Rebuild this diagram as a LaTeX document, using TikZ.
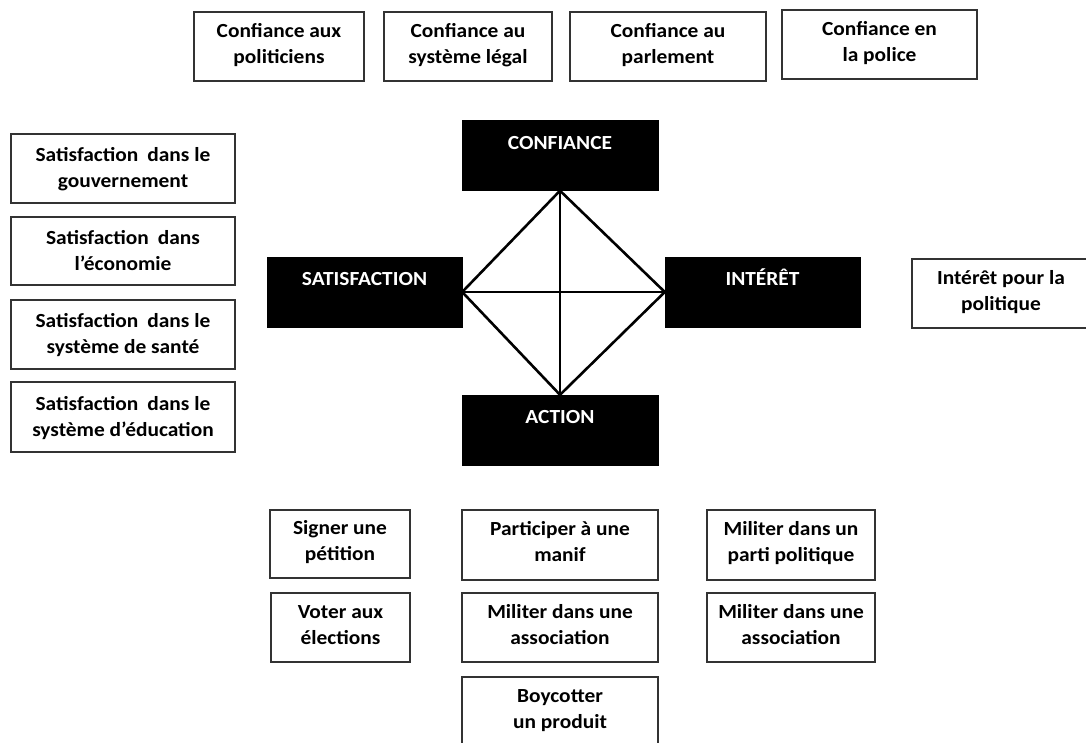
\documentclass[tikz,border=0pt]{standalone}
\usepackage{fontspec}
\setmainfont{Carlito}[FakeStretch=1.07]
\newcommand\twol[2]{\rule{0pt}{18pt}#1\\#2\rule[-10.6pt]{0pt}{10.6pt}}
\newcommand\twolL[2]{\rule{0pt}{18pt}#1\\#2\rule[-6pt]{0pt}{6pt}}
\newcommand\corel[1]{\rule{0pt}{19pt}#1\\\rule[-5.4pt]{0pt}{5.4pt}}
\begin{document}
\begin{tikzpicture}[x=1pt,y=-1pt,
  txtbase/.style={inner sep=0pt, align=center, rectangle,
    font=\bfseries\fontsize{20}{26}\selectfont},
  box/.style={txtbase, draw=black!80, line width=1.3pt, fill=white, text=black,
    minimum height=69pt},
  core/.style={txtbase, draw=black, fill=black, text=white,
    minimum width=196pt, minimum height=70pt},
  link/.style={line width=2.6pt, line cap=round}]
\useasboundingbox (0,0) rectangle (1086,743);
% top
\node[box, minimum width=170pt] (t1) at (279,46.5) {\twol{Confiance aux}{politiciens}};
\node[box, minimum width=168pt] (t2) at (468,46.5) {\twol{Confiance au}{système légal}};
\node[box, minimum width=196pt] (t3) at (668,46.5) {\twol{Confiance au}{parlement}};
\node[box, minimum width=195pt] (t4) at (879.5,44.5) {\twol{Confiance en}{la police}};
% left
\node[box, minimum width=224pt] (l1) at (123,168.5) {\twolL{Satisfaction\hspace{0.45em}dans le}{gouvernement}};
\node[box, minimum width=224pt, minimum height=68pt] (l2) at (123,251) {\twolL{Satisfaction\hspace{0.45em}dans}{l’économie}};
\node[box, minimum width=224pt] (l3) at (123,334.5) {\twolL{Satisfaction\hspace{0.45em}dans le}{système de santé}};
\node[box, minimum width=224pt, minimum height=70pt] (l4) at (123,417) {\twolL{Satisfaction\hspace{0.45em}dans le}{système d’éducation}};
% core
\node[core] (conf) at (560,155.5) {\corel{CONFIANCE}};
\node[core, minimum width=195pt] (sat) at (364.5,292) {\corel{SATISFACTION}};
\node[core, minimum width=195pt] (int) at (762.5,292) {\corel{INTÉRÊT}};
\node[core] (act) at (560,430) {\corel{ACTION}};
\draw[link] (conf.south) -- (sat.east) -- (act.north) -- (int.west) -- cycle;
\draw[link] (conf.south) -- (act.north);
\draw[link] (sat.east) -- (int.west);
% right
\node[box, minimum width=178pt] (r1) at (1001,293.5) {\twol{Intérêt pour la}{politique}};
% bottom
\node[box, minimum width=140pt, minimum height=68pt] (b1) at (340,544) {\twol{Signer une}{pétition}};
\node[box, minimum width=196pt, minimum height=70pt] (b2) at (560,545) {\twol{Participer à une}{manif}};
\node[box, minimum width=168pt, minimum height=70pt] (b3) at (791,545) {\twol{Militer dans un}{parti politique}};
\node[box, minimum width=139pt] (b4) at (340.5,627.5) {\twol{Voter aux}{élections}};
\node[box, minimum width=196pt] (b5) at (560,627.5) {\twol{Militer dans une}{association}};
\node[box, minimum width=168pt] (b6) at (791,627.5) {\twol{Militer dans une}{association}};
\node[box, minimum width=196pt, minimum height=70pt] (b7) at (560,712) {\twol{Boycotter}{un produit}};
\end{tikzpicture}
\end{document}
